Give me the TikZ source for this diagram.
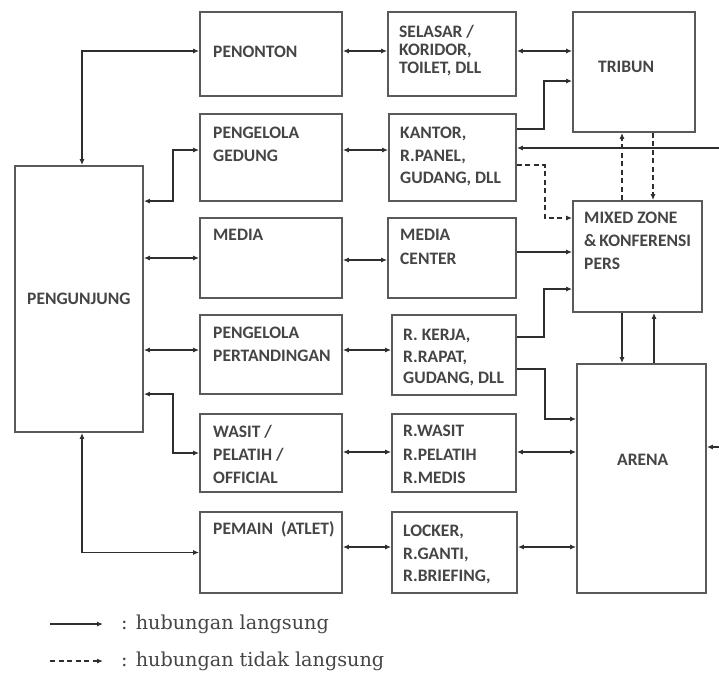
\documentclass[tikz,border=0pt]{standalone}
\usepackage{fontspec}
\newfontfamily\boxfont{Carlito}
\newfontfamily\legfont{DejaVu Serif}
\usetikzlibrary{arrows.meta}
\definecolor{boxline}{HTML}{5A5A5A}
\definecolor{conline}{HTML}{2E2E2E}
\definecolor{txtcol}{HTML}{454545}
\begin{document}
\begin{tikzpicture}[x=1pt,y=-1pt,
  box/.style={draw=boxline, line width=1.8pt, inner sep=0pt, fill=white},
  txt/.style={anchor=base west, inner sep=0pt, align=left, text=txtcol,
    font=\boxfont\bfseries\fontsize{17.5}{22.5}\selectfont},
  con/.style={draw=conline, line width=1.3pt, -{Latex[length=6pt,width=5pt]}},
  bicon/.style={draw=conline, line width=1.3pt, {Latex[length=6pt,width=5pt]}-{Latex[length=6pt,width=5pt]}},
  dcon/.style={con, dash pattern=on 5pt off 3.5pt},
  leg/.style={anchor=west, inner sep=0pt, text=txtcol, font=\legfont\fontsize{19.2}{22}\selectfont}]
\useasboundingbox[fill=white] (0,0) rectangle (719,673);

% boxes
\node[box, minimum width=128pt, minimum height=266pt] (pengunjung) at (79,299) {};
\node[box, minimum width=142pt, minimum height=84pt] (penonton) at (271,54) {};
\node[box, minimum width=142pt, minimum height=87pt] (gedung) at (271,157.5) {};
\node[box, minimum width=142pt, minimum height=80pt] (media) at (271,258) {};
\node[box, minimum width=142pt, minimum height=79pt] (pp) at (271,354.5) {};
\node[box, minimum width=142pt, minimum height=78pt] (wasit) at (271,453) {};
\node[box, minimum width=142pt, minimum height=81pt] (pemain) at (271,552.5) {};
\node[box, minimum width=128pt, minimum height=84pt] (selasar) at (452,54) {};
\node[box, minimum width=127pt, minimum height=87pt] (kantor) at (452.5,157.5) {};
\node[box, minimum width=128pt, minimum height=80pt] (mediacenter) at (452,258) {};
\node[box, minimum width=124pt, minimum height=80pt] (kerja) at (454,355) {};
\node[box, minimum width=124pt, minimum height=78pt] (rwasit) at (454,453) {};
\node[box, minimum width=125pt, minimum height=81pt] (locker) at (454.5,552.5) {};
\node[box, minimum width=122pt, minimum height=120pt] (tribun) at (634,72) {};
\node[box, minimum width=129pt, minimum height=111pt] (mixed) at (637.5,256.5) {};
\node[box, minimum width=129pt, minimum height=229pt] (arena) at (641.5,478.5) {};

% texts (anchor = baseline of the last line)
\node[txt] (tpengunjung) at (27,304.5) {PENGUNJUNG};
\node[txt] (tpenonton) at (213,57.5) {PENONTON};
\node[txt] (tgedung) at (213,161) {PENGELOLA\\GEDUNG};
\node[txt] (tmedia) at (213,240.5) {MEDIA};
\node[txt] (tpp) at (213,361) {PENGELOLA\\PERTANDINGAN};
\node[txt, font=\boxfont\bfseries\fontsize{17.5}{23}\selectfont] (twasit) at (213,483.5) {WASIT /\\PELATIH /\\OFFICIAL};
\node[txt] (tpemain) at (213,534.5) {PEMAIN~~(ATLET)};
\node[txt, font=\boxfont\bfseries\fontsize{17.5}{18}\selectfont] (tselasar) at (399,73.5) {SELASAR /\\KORIDOR,\\TOILET, DLL};
\node[txt] (tkantor) at (400,183.5) {KANTOR,\\R.PANEL,\\GUDANG, DLL};
\node[txt, font=\boxfont\bfseries\fontsize{17.5}{24}\selectfont] (tmediacenter) at (400,264.5) {MEDIA\\CENTER};
\node[txt, font=\boxfont\bfseries\fontsize{17.5}{21.5}\selectfont] (tkerja) at (403,383.5) {R. KERJA,\\R.RAPAT,\\GUDANG, DLL};
\node[txt, font=\boxfont\bfseries\fontsize{17.5}{23.5}\selectfont] (trwasit) at (403,483.5) {R.WASIT\\R.PELATIH\\R.MEDIS};
\node[txt] (tlocker) at (403,581.5) {LOCKER,\\R.GANTI,\\R.BRIEFING,};
\node[txt] (ttribun) at (598,72.5) {TRIBUN};
\node[txt, font=\boxfont\bfseries\fontsize{17.5}{23}\selectfont] (tmixed) at (584,269.5) {MIXED ZONE\\\&\,KONFERENSI\\PERS};
\node[txt] (tarena) at (617,465.5) {ARENA};

% connectors from PENGUNJUNG
\draw[bicon] ([xshift=3pt]pengunjung.north) |- ([yshift=3pt]penonton.west);
\draw[bicon] ([yshift=-36pt]pengunjung.north east) -- ++(29,0) |- ([yshift=7.5pt]gedung.west);
\draw[bicon] (pengunjung.east |- media.west) -- (media.west);
\draw[bicon] ([yshift=4.5pt]pengunjung.east |- pp.west) -- ([yshift=4.5pt]pp.west);
\draw[bicon] ([yshift=-229pt]pengunjung.north east) -- ++(29,0) |- ([yshift=0pt]wasit.west);
\draw[bicon] ([xshift=3pt]pengunjung.south) |- (pemain.west);

% left column to middle column
\draw[bicon] ([yshift=3pt]penonton.east) -- ([yshift=3pt]selasar.west);
\draw[bicon] ([yshift=7.5pt]gedung.east) -- ([yshift=7.5pt]kantor.west);
\draw[bicon] ([yshift=-2pt]media.east) -- ([yshift=-2pt]mediacenter.west);
\draw[bicon] ([yshift=4.5pt]pp.east) -- ([yshift=5pt]kerja.west);
\draw[bicon] ([yshift=1pt]wasit.east) -- ([yshift=1pt]rwasit.west);
\draw[bicon] ([yshift=5.5pt]pemain.east) -- ([yshift=5.5pt]locker.west);

% middle column to right column
\draw[bicon] ([yshift=3pt]selasar.east) -- ([yshift=21pt]tribun.west);
\draw[con] ([yshift=28.5pt]kantor.east) -- ++(27,0) |- ([yshift=-9pt]tribun.west);
\draw[dcon] ([yshift=-7.5pt]kantor.east) -- ++(28,0) |- ([yshift=38.5pt]mixed.west);
\draw[con] ([yshift=6pt]mediacenter.east) -- ([yshift=4.5pt]mixed.west);
\draw[con] ([yshift=18pt]kerja.east) -- ++(27,0) |- ([yshift=-32.5pt]mixed.west);
\draw[con] ([yshift=-14pt]kerja.east) -- ++(28,0) |- ([yshift=59.5pt]arena.west);
\draw[bicon] ([yshift=1pt]rwasit.east) -- ([yshift=26.5pt]arena.west);
\draw[bicon] ([yshift=5.5pt]locker.east) -- ([yshift=-68.5pt]arena.west);

% right column
\coordinate (rightedge) at (724,300);
\draw[bicon] ([yshift=9.5pt]kantor.east) -| (rightedge) |- ([yshift=31.5pt]arena.east);
\draw[dcon] ([xshift=-15.5pt]mixed.north) -- ([xshift=-12pt]tribun.south);
\draw[dcon] ([xshift=19pt]tribun.south) -- ([xshift=15.5pt]mixed.north);
\draw[con] ([xshift=-15.5pt]mixed.south) -- ([xshift=-19.5pt]arena.north);
\draw[con] ([xshift=12.5pt]arena.north) -- ([xshift=16.5pt]mixed.south);

% legend
\coordinate (la1) at (50,624);
\coordinate (lb1) at (103,624);
\coordinate (la2) at (50,661);
\coordinate (lb2) at (103,661);
\draw[con] (la1) -- (lb1);
\draw[dcon] (la2) -- (lb2);
\node[leg] (leg1) at (121,624) {: hubungan langsung};
\node[leg] (leg2) at (121,661) {: hubungan tidak langsung};
\end{tikzpicture}
\end{document}
